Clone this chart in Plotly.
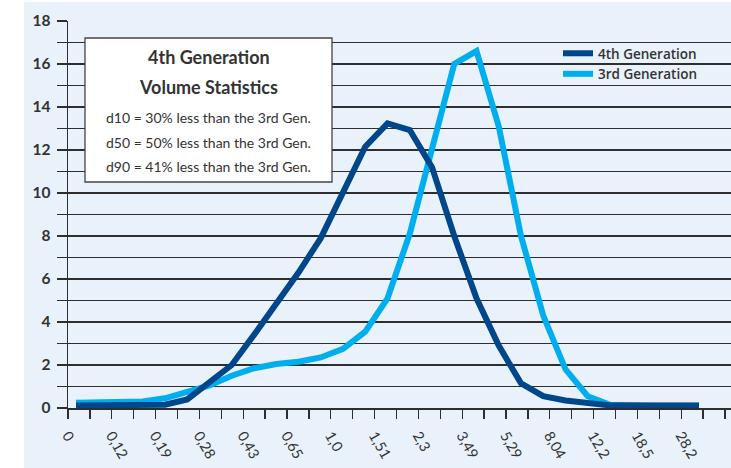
import plotly.graph_objects as go

# ---------------- data ----------------
size_labels = ["0", "0,12", "0,19", "0,28", "0,43", "0,65", "1,0", "1,51",
               "2,3", "3,49", "5,29", "8,04", "12,2", "18,5", "28,2"]
gen4 = [0.12, 0.12, 0.12, 0.12, 0.15, 0.4, 1.2, 2.0, 3.4, 4.85, 6.3, 7.9,
        10.1, 12.15, 13.24, 12.93, 11.2, 8.0, 5.1, 2.9, 1.15, 0.55, 0.35,
        0.2, 0.12, 0.12, 0.12, 0.12, 0.12]
gen3 = [0.25, 0.25, 0.25, 0.3, 0.45, 0.75, 1.05, 1.5, 1.85, 2.05, 2.15, 2.35,
        2.75, 3.55, 5.1, 8.1, 12.1, 16.0, 16.6, 13.1, 8.0, 4.3, 1.8, 0.55,
        0.15, 0.1, 0.1, 0.1, 0.1]
series_names = ["4th Generation", "3rd Generation"]
box_title = ["4th Generation", "Volume Statistics"]
box_lines = ["d10 = 30% less than the 3rd Gen.",
             "d50 = 50% less than the 3rd Gen.",
             "d90 = 41% less than the 3rd Gen."]

# ---------------- layout geometry ----------------
W, H = 731, 468
L, R, T, B = 68, 0, 21, 60
pw = W - L - R
ph = H - T - B

pt_dx = 22.25   # px between data points
pt_x0 = 8       # first point offset from y axis (px)
tick_dx = 21.9  # px between category ticks


def px2x(px):
    return (px - pt_x0) / pt_dx


def pxp(px):
    return (px - L) / pw


def pyp(py):
    return (H - B - py) / ph


xs = list(range(len(gen4)))
x_range = [px2x(0), px2x(pw)]
minor_vals = [px2x(k * tick_dx) for k in range(40) if k * tick_dx <= pw]
major_vals = [px2x(2 * j * tick_dx) for j in range(len(size_labels))]

DARK = "#00468A"
LIGHT = "#00AEEF"
GRID = "#2E2E2E"
TXT = "#333333"
BG = "#E9F1FA"
FONT = "Lato"

fig = go.Figure()
fig.add_trace(go.Scatter(x=xs, y=gen3, mode="lines", name=series_names[1],
                         line=dict(color=LIGHT, width=6)))
fig.add_trace(go.Scatter(x=xs, y=gen4, mode="lines", name=series_names[0],
                         line=dict(color=DARK, width=6)))

fig.update_layout(
    width=W, height=H,
    margin=dict(l=L, r=R, t=T, b=B, autoexpand=False),
    paper_bgcolor="white", plot_bgcolor=BG,
    template="none",
    showlegend=True,
    legend=dict(x=pxp(558), y=pyp(38), xanchor="left", yanchor="top",
                bgcolor="rgba(0,0,0,0)", traceorder="reversed",
                font=dict(family="Open Sans", size=13.5, color=TXT, weight=600),
                itemclick=False, itemdoubleclick=False),
    hovermode=False,
)

fig.update_xaxes(
    range=x_range, automargin=False,
    tickmode="array", tickvals=major_vals, ticktext=size_labels,
    tickangle=60, ticks="outside", ticklen=9, tickwidth=1.3, tickcolor=GRID,
    tickfont=dict(family=FONT, size=14.5, color=TXT),
    ticklabelstandoff=3,
    minor=dict(tickmode="array", tickvals=minor_vals, ticks="outside",
               ticklen=9, tickwidth=1.3, tickcolor=GRID, showgrid=False),
    showgrid=False, zeroline=False,
    showline=True, linecolor=GRID, linewidth=1.5,
)
fig.update_yaxes(
    range=[0, 18], automargin=False,
    tick0=0, dtick=2, ticks="outside", ticklen=10, tickwidth=1.3, tickcolor=GRID,
    tickfont=dict(family=FONT, size=15.5, color=TXT, weight="bold"),
    ticklabelstandoff=3,
    showgrid=True, gridcolor=GRID, gridwidth=1.3,
    minor=dict(dtick=1, tick0=0, ticks="outside", ticklen=10, tickwidth=1.3,
               tickcolor=GRID, showgrid=True, gridcolor=GRID, gridwidth=1.3),
    zeroline=False, showline=True, linecolor=GRID, linewidth=1.5,
)

# light-blue panel background (covers margins too)
fig.add_shape(type="rect", xref="paper", yref="paper",
              x0=pxp(24), x1=pxp(W + 5), y0=pyp(2), y1=pyp(H + 5),
              fillcolor=BG, line=dict(width=0), layer="below")

# statistics box
fig.add_shape(type="rect", xref="paper", yref="paper",
              x0=pxp(85), x1=pxp(332), y0=pyp(38), y1=pyp(182),
              fillcolor="white", line=dict(color="#444444", width=1.3),
              layer="above")
cx = pxp(208.5)
for txt, py in zip(box_title, [57.5, 87]):
    fig.add_annotation(text=txt, x=cx, y=pyp(py), xref="paper", yref="paper",
                       showarrow=False, xanchor="center", yanchor="middle",
                       font=dict(family=FONT, size=18, color=TXT, weight="bold"))
for txt, py in zip(box_lines, [117, 142, 166.5]):
    fig.add_annotation(text=txt, x=cx, y=pyp(py), xref="paper", yref="paper",
                       showarrow=False, xanchor="center", yanchor="middle",
                       font=dict(family=FONT, size=14, color=TXT))

fig.write_html("out.html",
               config={"displayModeBar": False, "staticPlot": True},
               post_script="document.body.style.margin='0';"
                           "document.body.style.padding='0';")
